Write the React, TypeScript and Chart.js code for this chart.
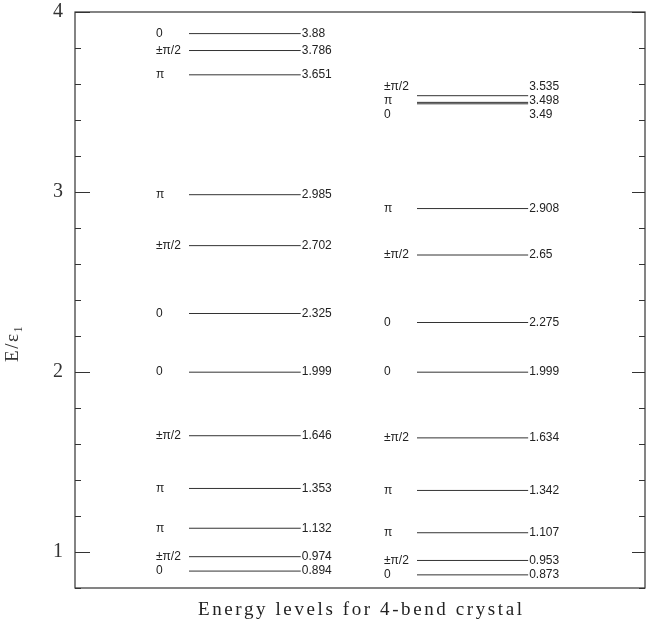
import React, { useEffect, useRef } from 'react';
import { Chart, registerables } from 'chart.js';

Chart.register(...registerables);

// ---- data ----
const leftEnergies = [3.88, 3.786, 3.651, 2.985, 2.702, 2.325, 1.999, 1.646, 1.353, 1.132, 0.974, 0.894];
const leftPhases = ['0', '±π/2', 'π', 'π', '±π/2', '0', '0', '±π/2', 'π', 'π', '±π/2', '0'];
const rightEnergies = [3.535, 3.498, 3.49, 2.908, 2.65, 2.275, 1.999, 1.634, 1.342, 1.107, 0.953, 0.873];
const rightPhases = ['±π/2', 'π', '0', 'π', '±π/2', '0', '0', '±π/2', 'π', 'π', '±π/2', '0'];
const yTickValues = [1, 2, 3, 4];
const yMinorStep = 0.2;
const yMin = 0.8;
const yMax = 4;
const yTitle = 'E/ε₁';
const chartTitle = 'Energy levels for 4-bend crystal';

// ---- layout (not data) ----
const columns = [
  { energies: leftEnergies, phases: leftPhases, x0: 0.2, x1: 0.396 },
  { energies: rightEnergies, phases: rightPhases, x0: 0.6, x1: 0.795 },
];
const LINE_COLOR = '#333';
const TEXT_FONT = '12px "Liberation Sans", Arial, sans-serif';
const SERIF = '"Liberation Serif", "Times New Roman", serif';

function declutter(ys: number[], minGap: number): number[] {
  const idx = ys.map((y, i) => i).sort((a, b) => ys[a] - ys[b]);
  const out = ys.slice();
  const groups: number[][] = [];
  let cur: number[] = [];
  idx.forEach((i, k) => {
    if (k === 0 || ys[i] - ys[idx[k - 1]] >= minGap) {
      if (cur.length) groups.push(cur);
      cur = [i];
    } else cur.push(i);
  });
  if (cur.length) groups.push(cur);
  groups.forEach((g) => {
    if (g.length < 2) return;
    const mean = g.reduce((s, i) => s + ys[i], 0) / g.length;
    const start = mean - ((g.length - 1) * minGap) / 2;
    g.forEach((i, k) => (out[i] = start + k * minGap));
  });
  return out;
}

const levelPlugin = {
  id: 'levelPlugin',
  afterDatasetsDraw(chart: any) {
    const { ctx, scales } = chart;
    const xs = scales.x;
    const ysc = scales.y;
    ctx.save();
    ctx.font = TEXT_FONT;
    ctx.fillStyle = '#222';
    ctx.textBaseline = 'middle';
    ctx.textAlign = 'left';
    columns.forEach((col) => {
      const py = col.energies.map((e) => ysc.getPixelForValue(e));
      const ly = declutter(py, 14);
      const xStart = xs.getPixelForValue(col.x0);
      const xEnd = xs.getPixelForValue(col.x1);
      col.energies.forEach((e, i) => {
        ctx.fillText(col.phases[i], xStart - 33, ly[i]);
        ctx.fillText(String(e), xEnd + 1, ly[i]);
      });
    });
    ctx.restore();
  },
  afterDraw(chart: any) {
    const { ctx, chartArea, scales } = chart;
    const ysc = scales.y;
    const { left, right, top, bottom } = chartArea;
    ctx.save();
    ctx.strokeStyle = '#333';
    ctx.lineWidth = 1.2;
    ctx.strokeRect(left, top, right - left, bottom - top);
    ctx.lineWidth = 1;
    const n = Math.round((yMax - yMin) / yMinorStep);
    for (let k = 0; k <= n; k++) {
      const v = yMin + k * yMinorStep;
      const major = yTickValues.some((t) => Math.abs(t - v) < 1e-6);
      const y = Math.round(ysc.getPixelForValue(v)) + 0.5;
      const lenL = major ? 15 : 6;
      const lenR = major ? 13 : 6;
      ctx.beginPath();
      ctx.moveTo(left, y);
      ctx.lineTo(left + lenL, y);
      ctx.moveTo(right, y);
      ctx.lineTo(right - lenR, y);
      ctx.stroke();
    }
    // bottom caption (widely spaced serif)
    ctx.fillStyle = '#222';
    ctx.textAlign = 'center';
    ctx.textBaseline = 'middle';
    ctx.font = '19px ' + SERIF;
    try { (ctx as any).letterSpacing = '2.6px'; } catch (e) { /* ignore */ }
    ctx.fillText(chartTitle, (left + right) / 2 + 1.3, 610);
    // y axis title (rotated)
    try { (ctx as any).letterSpacing = '1.5px'; } catch (e) { /* ignore */ }
    ctx.font = '19px ' + SERIF;
    ctx.fillStyle = '#333';
    ctx.translate(13, top + (bottom - top) * 0.575);
    ctx.rotate(-Math.PI / 2);
    ctx.fillText(yTitle, 0, 0);
    try { (ctx as any).letterSpacing = '0px'; } catch (e) { /* ignore */ }
    ctx.restore();
  },
};

export default function App() {
  const ref = useRef<HTMLCanvasElement | null>(null);
  useEffect(() => {
    document.body.style.margin = '0';
    if (!ref.current) return;
    const datasets: any[] = [];
    columns.forEach((col) => {
      col.energies.forEach((e) => {
        datasets.push({
          data: [
            { x: col.x0, y: e },
            { x: col.x1, y: e },
          ],
          borderColor: LINE_COLOR,
          borderWidth: 1,
          pointRadius: 0,
          showLine: true,
          fill: false,
        });
      });
    });
    const chart = new Chart(ref.current, {
      type: 'scatter',
      data: { datasets },
      options: {
        responsive: false,
        animation: false,
        layout: { padding: { left: 0, right: 5, top: 12, bottom: 42 } },
        plugins: {
          legend: { display: false },
          tooltip: { enabled: false },
          title: { display: false },
        },
        scales: {
          x: { type: 'linear', min: 0, max: 1, display: false },
          y: {
            type: 'linear',
            min: yMin,
            max: yMax,
            grid: { display: false, drawTicks: false },
            border: { display: false },
            afterBuildTicks: (scale: any) => {
              scale.ticks = yTickValues.map((v) => ({ value: v }));
            },
            afterFit: (scale: any) => {
              scale.width = 75;
              scale.paddingTop = 0;
              scale.paddingBottom = 0;
            },
            ticks: {
              color: '#333',
              padding: 12,
              font: { family: SERIF, size: 20 },
              callback: (v: any) => String(v),
            },
          },
        },
      },
      plugins: [levelPlugin],
    });
    return () => chart.destroy();
  }, []);
  return (
    <div style={{ position: 'absolute', left: 0, top: 0, width: 650, height: 630, background: '#fff' }}>
      <canvas ref={ref} width={650} height={630} />
    </div>
  );
}
